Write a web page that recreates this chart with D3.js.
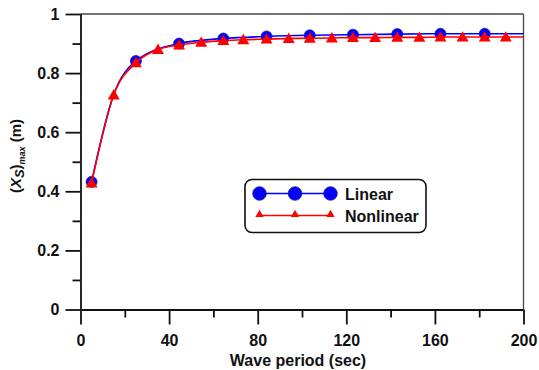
<!DOCTYPE html>
<html>
<head>
<meta charset="utf-8">
<script src="https://cdn.jsdelivr.net/npm/d3@7/dist/d3.min.js"></script>
<style>
  html, body { margin: 0; padding: 0; background: #fff; }
  svg { display: block; }
  text { font-family: "Liberation Sans", Arial, sans-serif; font-weight: bold; fill: #111; }
</style>
</head>
<body>
<svg id="chart" width="539" height="370"></svg>
<script>
// ---- data ----
const linearX = [5, 15, 25, 44.5, 64.5, 84, 103.5, 123, 143, 162.5, 182.5, 200];
const linearY = [0.432, 0.728, 0.841, 0.900, 0.917, 0.924, 0.928, 0.930, 0.932, 0.933, 0.933, 0.933];
const linearMarker = [1, 0, 1, 1, 1, 1, 1, 1, 1, 1, 1, 0];

const nonlinearX = [5, 15, 25, 35, 44.5, 54.5, 64.5, 73.5, 84, 94, 103.5, 113.5, 123, 133, 143, 153, 162.5, 172.5, 182.5, 192, 200];
const nonlinearY = [0.428, 0.726, 0.835, 0.880, 0.895, 0.904, 0.910, 0.913, 0.915, 0.917, 0.918, 0.919, 0.920, 0.920, 0.921, 0.921, 0.922, 0.922, 0.922, 0.922, 0.922];
const nonlinearMarker = [1, 1, 1, 1, 1, 1, 1, 1, 1, 1, 1, 1, 1, 1, 1, 1, 1, 1, 1, 1, 0];

const xMajorTicks = [0, 40, 80, 120, 160, 200];
const xMinorTicks = [20, 60, 100, 140, 180];
const yMajorTicks = [0, 0.2, 0.4, 0.6, 0.8, 1];
const yTickLabels = ["0", "0.2", "0.4", "0.6", "0.8", "1"];
const yMinorTicks = [0.1, 0.3, 0.5, 0.7, 0.9];
const seriesNames = ["Linear", "Nonlinear"];
const xTitle = "Wave period (sec)";

// ---- layout ----
const svg = d3.select("#chart");
const L = 80.5, R = 523.5, T = 14, B = 309.5;
const x = d3.scaleLinear().domain([0, 200]).range([L, R]);
const y = d3.scaleLinear().domain([0, 1]).range([B, T]);
const blue = "#0000ff", red = "#ff0000";

// frame (top & right)
svg.append("line").attr("x1", L).attr("x2", R).attr("y1", T).attr("y2", T)
  .attr("stroke", "#444").attr("stroke-width", 1.3);
svg.append("line").attr("x1", R).attr("x2", R).attr("y1", T).attr("y2", B)
  .attr("stroke", "#444").attr("stroke-width", 1.3);

// axes
const yAxis = d3.axisLeft(y).tickValues(yMajorTicks).tickSize(15).tickPadding(6)
  .tickFormat((d, i) => yTickLabels[i]);
const gy = svg.append("g").attr("transform", `translate(${L},0)`).call(yAxis);
const yMinor = d3.axisLeft(y).tickValues(yMinorTicks).tickSize(8).tickFormat("");
const gym = svg.append("g").attr("transform", `translate(${L},0)`).call(yMinor);

const xAxis = d3.axisBottom(x).tickValues(xMajorTicks).tickSize(15).tickPadding(10)
  .tickFormat(d3.format("d"));
const gx = svg.append("g").attr("transform", `translate(0,${B})`).call(xAxis);
const xMinor = d3.axisBottom(x).tickValues(xMinorTicks).tickSize(8).tickFormat("");
const gxm = svg.append("g").attr("transform", `translate(0,${B})`).call(xMinor);

[gy, gym, gx, gxm].forEach(g => {
  g.selectAll("path.domain").attr("stroke", "#111").attr("stroke-width", 1.8);
  g.selectAll(".tick line").attr("stroke", "#111").attr("stroke-width", 1.8);
  g.selectAll(".tick text").style("font-size", "16px").style("font-weight", "bold")
    .style("font-family", '"Liberation Sans", Arial, sans-serif').attr("fill", "#111");
});
gym.select("path.domain").remove();
gxm.select("path.domain").remove();
gy.select("path.domain").attr("d", `M0.5,${T}V${B}`);
gx.select("path.domain").attr("d", `M${L},0.5H${R}`);

// axis titles
svg.append("text").attr("x", (L + R) / 2 - 4).attr("y", 366).attr("text-anchor", "middle")
  .style("font-size", "16px").text(xTitle);

const yt = svg.append("text").attr("transform", "translate(21,156) rotate(-90)")
  .attr("text-anchor", "middle").style("font-size", "15px");
yt.append("tspan").text("(");
yt.append("tspan").style("font-style", "italic").text("X");
yt.append("tspan").style("font-style", "italic").style("font-size", "13px").attr("dy", 3).text("S");
yt.append("tspan").attr("dy", -3).text(")");
yt.append("tspan").style("font-style", "italic").style("font-size", "9px").attr("dy", 4).text("max");
yt.append("tspan").attr("dy", -4).text(" (m)");

// ---- series ----
const line = d3.line().x(d => x(d[0])).y(d => y(d[1])).curve(d3.curveMonotoneX);
const linPts = linearX.map((v, i) => [v, linearY[i], linearMarker[i]]);
const nonPts = nonlinearX.map((v, i) => [v, nonlinearY[i], nonlinearMarker[i]]);

svg.append("path").datum(linPts).attr("d", line)
  .attr("fill", "none").attr("stroke", blue).attr("stroke-width", 1.6);
svg.selectAll("circle.lin").data(linPts.filter(d => d[2])).enter().append("circle").attr("class", "lin")
  .attr("cx", d => x(d[0])).attr("cy", d => y(d[1])).attr("r", 5.5)
  .attr("fill", blue).attr("stroke", "#1a1a9a").attr("stroke-width", 0.8);

svg.append("path").datum(nonPts).attr("d", line)
  .attr("fill", "none").attr("stroke", red).attr("stroke-width", 1.6);
const tri = d3.symbol().type(d3.symbolTriangle).size(62);
svg.selectAll("path.non").data(nonPts.filter(d => d[2])).enter().append("path").attr("class", "non")
  .attr("d", tri).attr("transform", d => `translate(${x(d[0])},${y(d[1]) + 1})`)
  .attr("fill", red);

// ---- legend ----
const lg = svg.append("g");
lg.append("rect").attr("x", 245).attr("y", 179.5).attr("width", 181).attr("height", 53)
  .attr("rx", 7).attr("fill", "#fff").attr("stroke", "#111").attr("stroke-width", 1.6);
const legX = [259.5, 295, 330.5];
const row1 = 193.5, row2 = 215.5;
lg.append("line").attr("x1", legX[0]).attr("x2", legX[2]).attr("y1", row1).attr("y2", row1)
  .attr("stroke", blue).attr("stroke-width", 1.6);
legX.forEach(px => lg.append("circle").attr("cx", px).attr("cy", row1).attr("r", 6.8)
  .attr("fill", blue).attr("stroke", "#1a1a9a").attr("stroke-width", 0.8));
lg.append("line").attr("x1", legX[0]).attr("x2", legX[2]).attr("y1", row2).attr("y2", row2)
  .attr("stroke", red).attr("stroke-width", 1.6);
const tri2 = d3.symbol().type(d3.symbolTriangle).size(30);
legX.forEach(px => lg.append("path").attr("d", tri2)
  .attr("transform", `translate(${px},${row2 - 1})`).attr("fill", red));
lg.append("text").attr("x", 345).attr("y", row1 + 6).style("font-size", "16px").text(seriesNames[0]);
lg.append("text").attr("x", 345).attr("y", row2 + 6).style("font-size", "16px").text(seriesNames[1]);
</script>
</body>
</html>
